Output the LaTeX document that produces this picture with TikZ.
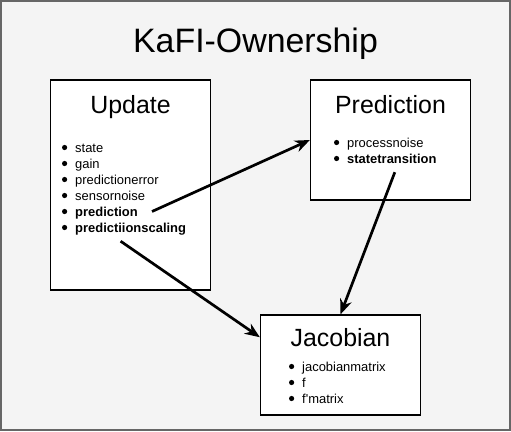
\documentclass[tikz,border=0pt]{standalone}
\usepackage{fontspec}
\setmainfont{Liberation Sans}
\usetikzlibrary{shapes,arrows.meta,positioning}
\definecolor{bggray}{RGB}{244,244,244}
\definecolor{framegray}{RGB}{102,102,102}

\begin{document}
\begin{tikzpicture}[x=1bp, y=-1bp,
    box/.style={rectangle, draw=black, fill=white, line width=1.3bp, minimum width=160bp},
    boxtitle/.style={anchor=base, font=\fontsize{25}{30}\selectfont},
    dot/.style={circle, fill=black, inner sep=0pt, minimum size=5.2bp},
    entry/.style={anchor=base west, inner sep=0pt, text height=12bp, text depth=3bp, font=\fontsize{13}{16}\selectfont, label={[dot, label distance=7.6bp]left:}},
    link/.style={-{Stealth[length=15bp, width=12bp]}, line width=2.7bp}]
    % Frame
    \useasboundingbox (0,0) rectangle (511,431);
    \draw[framegray, fill=bggray, line width=1.5bp] (0.75,0.75) rectangle (509.75,429.75);

    % Title
    \node[anchor=base, font=\fontsize{34}{40}\selectfont] (title) at (255.5,52) {KaFI-Ownership};

    % Update
    \node[box, minimum height=210bp] (upd) at (130.5,185) {};
    \node[boxtitle] (updTitle) at (130.5,113) {Update};
    \node[entry] (updState) at (75,152) {state};
    \node[entry] (updGain) at (75,168) {gain};
    \node[entry] (updErr) at (75,184) {predictionerror};
    \node[entry] (updNoise) at (75,200) {sensornoise};
    \node[entry] (updPred) at (75,216) {\textbf{prediction}};
    \node[entry] (updScal) at (75,232) {\textbf{predictiionscaling}};

    % Prediction
    \node[box, minimum height=120bp] (pred) at (390.5,140) {};
    \node[boxtitle] (predTitle) at (390.5,113) {Prediction};
    \node[entry] (predNoise) at (347,147) {processnoise};
    \node[entry] (predTrans) at (347,163) {\textbf{statetransition}};

    % Jacobian
    \node[box, minimum height=100bp] (jac) at (340.5,365) {};
    \node[boxtitle] (jacTitle) at (340.5,346) {Jacobian};
    \node[entry] (jacMatrix) at (302,371) {jacobianmatrix};
    \node[entry] (jacF) at (302,387) {f};
    \node[entry] (jacFMatrix) at (302,403) {f\textquotesingle matrix};

    % Arrows
    \draw[link] ([xshift=14bp]updPred.east) -- (pred.west);
    \draw[link] ([xshift=-10bp, yshift=-6bp]updScal.south) -- (jac.161);
    \draw[link] ([xshift=3bp, yshift=-6bp]predTrans.south) -- (jac.north);
\end{tikzpicture}
\end{document}
